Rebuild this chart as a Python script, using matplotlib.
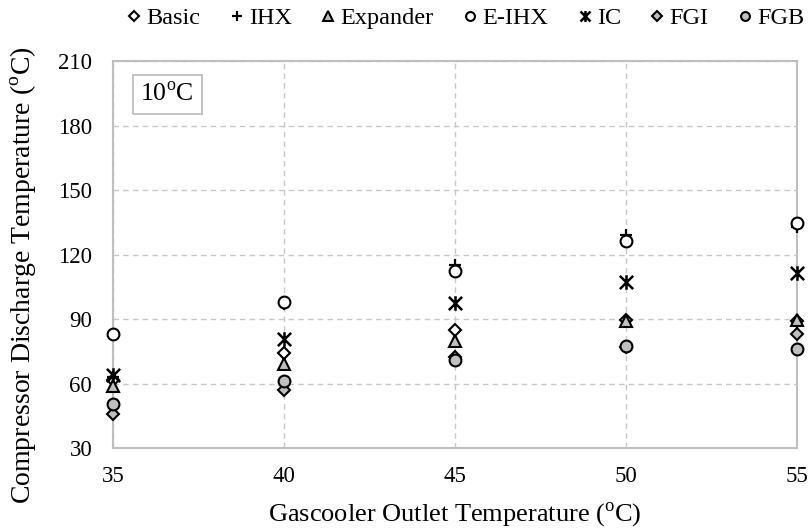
import matplotlib
matplotlib.use("Agg")
import matplotlib.pyplot as plt
from matplotlib.path import Path

plt.rcParams['font.family'] = ['Liberation Serif', 'DejaVu Serif']
plt.rcParams['mathtext.fontset'] = 'custom'
plt.rcParams['mathtext.rm'] = 'Liberation Serif'

# Gascooler outlet temperatures (°C)
gc_temps = [35, 40, 45, 50, 55]

# Compressor discharge temperatures (°C) per cycle configuration
basic = [61.5, 74, 85, 89.5, 89]
ihx = [63, 97, 115, 129, 133]
expander = [59, 69, 80, 89, 89.5]
e_ihx = [83, 98, 112.5, 126.5, 134.5]
ic = [64, 80.5, 97.5, 107, 111.5]
fgi = [46, 57, 72.5, 77, 83]
fgb = [50.5, 61, 71, 77.5, 76]

series_names = ["Basic", "IHX", "Expander", "E-IHX", "IC", "FGI", "FGB"]

y_ticks = [30, 60, 90, 120, 150, 180, 210]
x_ticks = [35, 40, 45, 50, 55]

# asterisk-like marker: an X with a vertical stroke
star_path = Path(
    [(-1, -1), (1, 1), (-1, 1), (1, -1), (0, -1.1), (0, 1.1)],
    [Path.MOVETO, Path.LINETO, Path.MOVETO, Path.LINETO, Path.MOVETO, Path.LINETO],
)

gray = "#BFBFBF"
styles = {
    "Basic": dict(marker="D", mfc="white", mec="black", ms=6.5, mew=1.5),
    "IHX": dict(marker="+", mfc="none", mec="black", ms=9, mew=1.6),
    "Expander": dict(marker="^", mfc=gray, mec="black", ms=9, mew=1.5),
    "E-IHX": dict(marker="o", mfc="white", mec="black", ms=8.5, mew=1.5),
    "IC": dict(marker=star_path, mfc="none", mec="black", ms=10.5, mew=1.8),
    "FGI": dict(marker="D", mfc=gray, mec="black", ms=6.5, mew=1.5),
    "FGB": dict(marker="o", mfc=gray, mec="black", ms=8.5, mew=1.5),
}
values = [basic, ihx, expander, e_ihx, ic, fgi, fgb]

fig = plt.figure(figsize=(8.10, 5.31), dpi=100)
ax = fig.add_axes([0.1395, 0.1563, 0.8445, 0.7287])

for name, vals in zip(series_names, values):
    ax.plot(gc_temps, vals, linestyle="none", label=name, zorder=3,
            clip_on=False, **styles[name])

ax.set_xlim(35, 55)
ax.set_ylim(30, 210)
ax.set_xticks(x_ticks)
ax.set_yticks(y_ticks)
ax.tick_params(axis="y", length=0, labelsize=16.5, pad=15)
ax.tick_params(axis="x", length=0, labelsize=16.5, pad=13)
ax.grid(True, color="#C8C8C8", linestyle=(0, (4, 3)), linewidth=1.0, zorder=0)
for side in ["left", "bottom", "top", "right"]:
    ax.spines[side].set_color("#BFBFBF")
    ax.spines[side].set_linewidth(1.5)

ax.set_xlabel("Gascooler Outlet Temperature ($^\\mathrm{o}$C)", fontsize=19)
ax.xaxis.set_label_coords(0.5, -0.135)
ax.set_ylabel("Compressor Discharge Temperature ($^\\mathrm{o}$C)", fontsize=20)
ax.yaxis.set_label_coords(-0.108, 0.447)

ax.text(0.04, 0.945, "10$^\\mathrm{o}$C", transform=ax.transAxes, fontsize=18.5,
        ha="left", va="top",
        bbox=dict(boxstyle="square,pad=0.3", fc="white", ec="#BFBFBF", lw=1.3))

leg = fig.legend(loc="upper right", bbox_to_anchor=(1.005, 1.005), ncol=7, frameon=False,
                 fontsize=17.5, handlelength=0.5, handletextpad=0.25, columnspacing=1.25,
                 borderaxespad=0.0, markerscale=0.75)

fig.savefig("out.png", dpi=100)
